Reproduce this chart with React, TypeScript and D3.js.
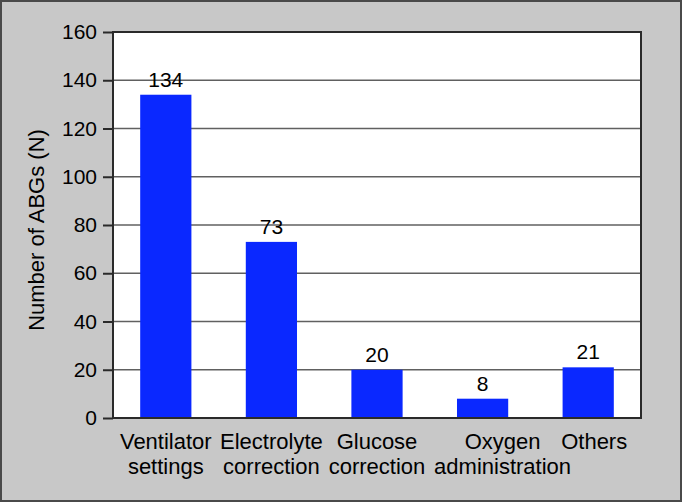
import React, { useRef, useEffect } from "react";
import * as d3 from "d3";

// data
const categories = [
  "Ventilator settings",
  "Electrolyte correction",
  "Glucose correction",
  "Oxygen administration",
  "Others",
];
const labelLines = [
  ["Ventilator", "settings"],
  ["Electrolyte", "correction"],
  ["Glucose", "correction"],
  ["Oxygen", "administration"],
  ["Others"],
];
const counts = [134, 73, 20, 8, 21];
const yTicks = [0, 20, 40, 60, 80, 100, 120, 140, 160];

// small nudges of the category labels, as in the original
const labelShift = [0, 0, 0, 20, 6];

const W = 682;
const H = 502;
const FONT = "'Liberation Sans', Arial, sans-serif";

const App = () => {
  const svgRef = useRef<SVGSVGElement>(null);

  useEffect(() => {
    const svg = d3.select(svgRef.current);
    svg.selectAll("*").remove();

    const left = 113;
    const right = 641;
    const top = 32;
    const bottom = 418;

    // background + outer frame
    svg
      .append("rect")
      .attr("x", 1)
      .attr("y", 1)
      .attr("width", W - 2)
      .attr("height", H - 2)
      .attr("fill", "#c8c8c8")
      .attr("stroke", "#4a4a4a")
      .attr("stroke-width", 2);

    const x = d3
      .scaleBand()
      .domain(categories)
      .range([left, right])
      .paddingInner(0.515)
      .paddingOuter(0.2575);

    const y = d3.scaleLinear().domain([0, 160]).range([bottom, top]);

    // plot area
    svg
      .append("rect")
      .attr("x", left)
      .attr("y", top)
      .attr("width", right - left)
      .attr("height", bottom - top)
      .attr("fill", "#ffffff");

    // gridlines
    svg
      .append("g")
      .selectAll("line")
      .data(yTicks.filter((t) => t > 0 && t < 160))
      .enter()
      .append("line")
      .attr("x1", left)
      .attr("x2", right)
      .attr("y1", (d) => y(d))
      .attr("y2", (d) => y(d))
      .attr("stroke", "#606060")
      .attr("stroke-width", 1.5);

    // bars
    svg
      .append("g")
      .selectAll("rect")
      .data(counts)
      .enter()
      .append("rect")
      .attr("x", (d, i) => x(categories[i]) as number)
      .attr("y", (d) => y(d))
      .attr("width", x.bandwidth())
      .attr("height", (d) => bottom - y(d))
      .attr("fill", "#0a28ff");

    // value labels
    svg
      .append("g")
      .selectAll("text")
      .data(counts)
      .enter()
      .append("text")
      .attr("x", (d, i) => (x(categories[i]) as number) + x.bandwidth() / 2)
      .attr("y", (d) => y(d) - 8)
      .attr("text-anchor", "middle")
      .attr("font-family", FONT)
      .attr("font-size", 21)
      .attr("fill", "#000")
      .text((d) => d);

    // plot frame
    svg
      .append("rect")
      .attr("x", left)
      .attr("y", top)
      .attr("width", right - left)
      .attr("height", bottom - top)
      .attr("fill", "none")
      .attr("stroke", "#2a2a2a")
      .attr("stroke-width", 2);

    // y axis
    const yAxis = svg
      .append("g")
      .attr("transform", `translate(${left},0)`)
      .call(d3.axisLeft(y).tickValues(yTicks).tickSize(10).tickPadding(6));
    yAxis.select(".domain").remove();
    yAxis.selectAll(".tick line").attr("stroke", "#2a2a2a").attr("stroke-width", 2);
    yAxis
      .selectAll(".tick text")
      .attr("font-family", FONT)
      .attr("font-size", 21)
      .attr("fill", "#000");

    // x labels
    const xl = svg
      .append("g")
      .selectAll("text")
      .data(labelLines)
      .enter()
      .append("text")
      .attr("y", 449)
      .attr("text-anchor", "middle")
      .attr("font-family", FONT)
      .attr("font-size", 22)
      .attr("fill", "#000");
    xl.each(function (d, i) {
      const t = d3.select(this);
      const cx = (x(categories[i]) as number) + x.bandwidth() / 2 + labelShift[i];
      d.forEach((line, k) => {
        t.append("tspan")
          .attr("x", cx)
          .attr("dy", k === 0 ? 0 : 25)
          .text(line);
      });
    });

    // y title
    svg
      .append("text")
      .attr("transform", `translate(44,${(top + bottom) / 2 + 5}) rotate(-90)`)
      .attr("text-anchor", "middle")
      .attr("font-family", FONT)
      .attr("font-size", 22)
      .attr("fill", "#000")
      .text("Number of ABGs (N)");
  }, []);

  return (
    <svg
      ref={svgRef}
      width={W}
      height={H}
      style={{ position: "absolute", left: 0, top: 0, display: "block" }}
    ></svg>
  );
};

export default App;
